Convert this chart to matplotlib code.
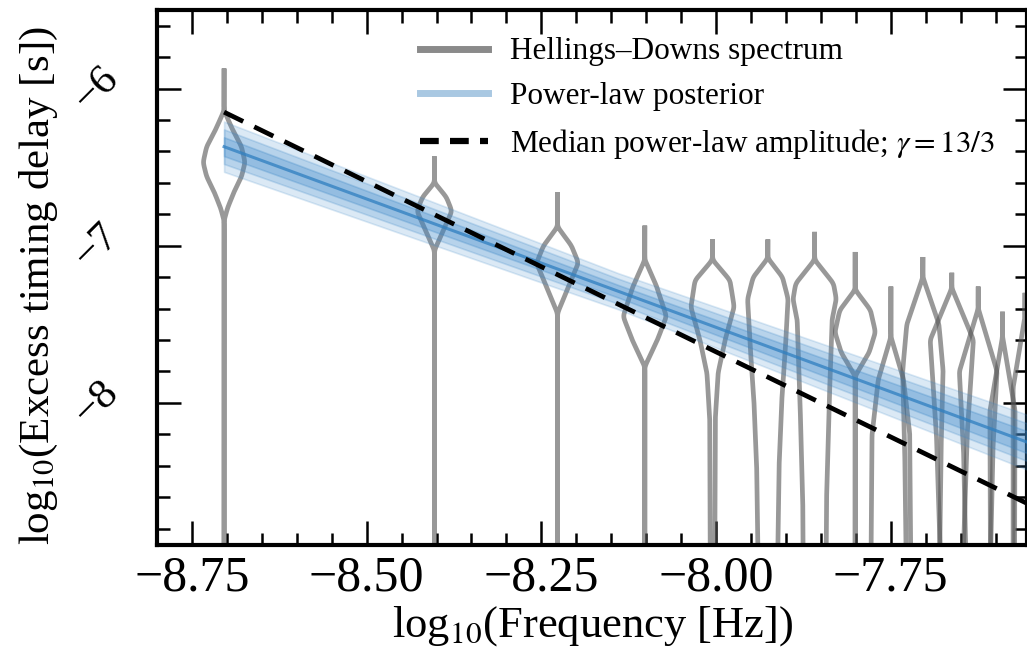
import numpy as np
import matplotlib
matplotlib.use("Agg")
import matplotlib.pyplot as plt
from matplotlib.lines import Line2D

plt.rcParams['font.family'] = ['Liberation Serif', 'DejaVu Serif']
plt.rcParams['mathtext.fontset'] = 'stix'

# ---------------- data ----------------
T_log = -8.704                        # log10(1/T) of first frequency bin
harmonics = list(range(1, 15))        # violin frequency bins k/T

# violin outlines: (log10 delay, half-width in log10 Hz) knots, top to bottom
violins = {
    1:  [(-5.87, 0), (-6.14, 0), (-6.26, 0.012), (-6.37, 0.025), (-6.47, 0.030), (-6.56, 0.025), (-6.66, 0.014), (-6.76, 0.005), (-6.84, 0), (-9.3, 0)],
    2:  [(-6.43, 0), (-6.60, 0), (-6.69, 0.017), (-6.78, 0.025), (-6.90, 0.013), (-7.03, 0), (-9.3, 0)],
    3:  [(-6.66, 0), (-6.88, 0), (-7.00, 0.020), (-7.11, 0.030), (-7.28, 0.014), (-7.43, 0), (-9.3, 0)],
    4:  [(-6.87, 0), (-7.09, 0), (-7.26, 0.017), (-7.45, 0.031), (-7.60, 0.018), (-7.77, 0), (-9.3, 0)],
    5:  [(-6.96, 0), (-7.09, 0), (-7.22, 0.025), (-7.39, 0.031), (-7.60, 0.018), (-7.81, 0.008), (-8.10, 0.004), (-9.3, 0.003)],
    6:  [(-6.96, 0), (-7.08, 0), (-7.20, 0.021), (-7.34, 0.029), (-7.66, 0.025), (-7.98, 0.020), (-8.41, 0.016), (-9.3, 0.013)],
    7:  [(-6.91, 0), (-7.09, 0), (-7.24, 0.027), (-7.34, 0.031), (-7.47, 0.025), (-7.98, 0.021), (-8.62, 0.017), (-9.3, 0.016)],
    8:  [(-7.04, 0), (-7.28, 0), (-7.41, 0.022), (-7.55, 0.029), (-7.68, 0.020), (-7.83, 0), (-9.3, 0)],
    9:  [(-7.26, 0), (-7.58, 0), (-7.85, 0.018), (-8.20, 0.027), (-9.3, 0.029)],
    10: [(-7.07, 0), (-7.20, 0), (-7.50, 0.023), (-7.80, 0.029), (-8.30, 0.026), (-9.3, 0.023)],
    11: [(-7.17, 0), (-7.27, 0), (-7.60, 0.031), (-8.20, 0.022), (-9.3, 0.014)],
    12: [(-7.26, 0), (-7.40, 0), (-7.80, 0.027), (-8.30, 0.021), (-9.3, 0.016)],
    13: [(-7.42, 0), (-7.58, 0), (-8.05, 0.018), (-9.3, 0.017)],
    14: [(-7.30, 0), (-7.45, 0), (-7.90, 0.017), (-9.3, 0.017)],
}

# power-law posterior band (log10 f, median, half-widths of three credible levels)
band_x = [-8.704, -8.14, -7.555]
band_median = [-6.37, -7.29, -8.25]
band_hw_inner = [0.06, 0.04, 0.07]
band_hw_mid = [0.11, 0.08, 0.12]
band_hw_outer = [0.16, 0.115, 0.175]

# median power-law amplitude, gamma = 13/3
med_x = [-8.704, -7.555]
med_y = [-6.15, -8.64]

xticks = [-8.75, -8.50, -8.25, -8.00, -7.75]
yticks = [-8, -7, -6]

# ---------------- figure ----------------
W, H = 1027, 661
fig = plt.figure(figsize=(W / 100, H / 100), dpi=100)
ax = fig.add_axes([157 / W, 1 - 545 / H, (1027 - 157) / W, (545 - 10) / H])

gray = (0.33, 0.33, 0.33)
for k in harmonics:
    xc = T_log + np.log10(k)
    kn = violins[k]
    ky = np.array([p[0] for p in kn])[::-1]
    kw = np.array([p[1] for p in kn])[::-1]
    yy = np.arange(ky[0], ky[-1] + 1e-9, 0.004)
    ww = np.interp(yy, ky, kw)
    ker = np.exp(-0.5 * (np.arange(-8, 9) / 4.0) ** 2)
    ker /= ker.sum()
    wpad = np.concatenate([np.full(8, ww[0]), ww, np.full(8, ww[-1])])
    ws = np.convolve(wpad, ker, mode='valid')
    ws[yy > ky[-1] - 0.001] = 0
    xs = np.concatenate([xc - ws[::-1], xc + ws])
    ys = np.concatenate([yy[::-1], yy])
    ax.plot(xs, ys, color=gray, lw=3.4, alpha=0.6, solid_capstyle='butt',
            solid_joinstyle='round', zorder=2)

blue = '#3a86c8'
bx = np.array(band_x)
bm = np.array(band_median)
for hw, a in [(band_hw_outer, 0.18), (band_hw_mid, 0.22), (band_hw_inner, 0.28)]:
    hw = np.array(hw)
    ax.fill_between(bx, bm - hw, bm + hw, color=blue, alpha=a, lw=1.2,
                    edgecolor=(0.23, 0.53, 0.78, 0.35), zorder=3)
ax.plot(bx, bm, color='#2f7fc0', lw=2.2, alpha=0.75, zorder=4)

ax.plot(med_x, med_y, color='black', lw=3.4, linestyle=(0, (4.5, 2.6)), zorder=5)

ax.set_xlim(-8.80, -7.555)
ax.set_ylim(-8.905, -5.50)
ax.set_xticks(xticks)
ax.set_xticklabels([f"\u2212{abs(v):.2f}" for v in xticks])
ax.set_yticks(yticks)
ax.set_yticklabels([f"\u2212{abs(v):d}" for v in yticks])
ax.xaxis.set_minor_locator(matplotlib.ticker.MultipleLocator(0.05))
ax.yaxis.set_minor_locator(matplotlib.ticker.MultipleLocator(0.2))
ax.tick_params(which='both', direction='in', top=True, right=True, width=1.8)
ax.tick_params(which='major', length=17)
ax.tick_params(which='minor', length=9)
ax.tick_params(axis='x', which='major', labelsize=36, pad=7)
ax.tick_params(axis='y', which='major', labelsize=31, pad=22)
for lab in ax.get_yticklabels():
    lab.set_rotation(45)
    lab.set_ha('right')
    lab.set_va('center')
for s in ax.spines.values():
    s.set_linewidth(3.0)

ax.set_xlabel(r"log$_{10}$(Frequency [Hz])", fontsize=32, labelpad=2)
ax.set_ylabel(r"log$_{10}$(Excess timing delay [s])", fontsize=31)
ax.yaxis.set_label_coords(-0.112, 0.485)

handles = [
    Line2D([], [], color='#8a8a8a', lw=5),
    Line2D([], [], color='#a9c8e2', lw=5),
    Line2D([], [], color='black', lw=4.5, linestyle=(0, (3.0, 1.8))),
]
labels = ["Hellings\u2013Downs spectrum", "Power-law posterior",
          r"Median power-law amplitude; $\gamma = 13/3$"]
ax.legend(handles, labels, loc='upper left', bbox_to_anchor=(407 / W, 1 - 25 / H),
          bbox_transform=fig.transFigure, frameon=False, fontsize=22.5,
          handlelength=2.2, handletextpad=0.7, labelspacing=0.5, borderaxespad=0)

fig.savefig("out.png", dpi=100)
